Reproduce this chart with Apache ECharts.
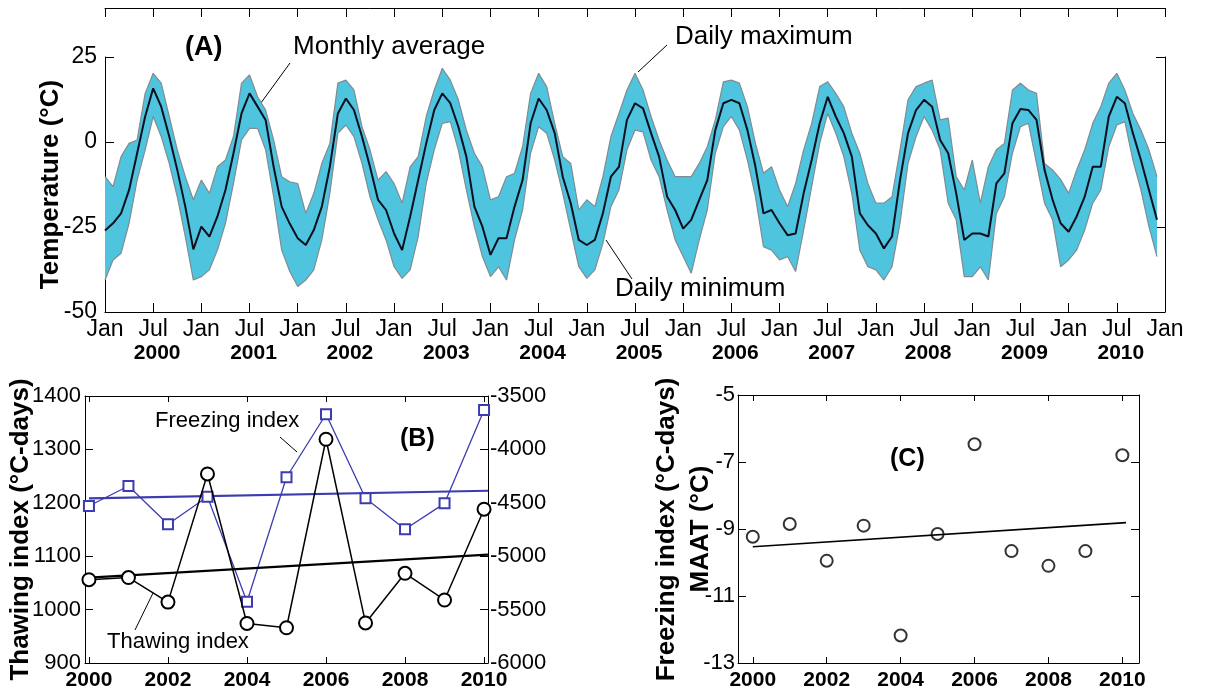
<!DOCTYPE html>
<html><head><meta charset="utf-8">
<script src="https://cdn.jsdelivr.net/npm/echarts@6/dist/echarts.min.js"></script>
<style>html,body{margin:0;padding:0;background:#fff}#c{width:1221px;height:697px}</style>
</head><body><div id="c"></div>
<script>
// ---------- Panel A: monthly temperatures Jan 2000 .. Dec 2010 (132 months) ----------
var tAvg = [
 -26,-23.9,-21,-14.1,-3.3,7.5,15.8,10.4,1.6,-8.2,-19,-31.6,
 -24.9,-27.8,-21.9,-14.1,-3.3,8.4,14.3,10.4,6.5,-7.3,-19,-24,
 -28.3,-30.3,-25.9,-19,-7.3,8.4,12.8,9.4,1.6,-7.3,-17,-20,
 -26.9,-31.8,-21.9,-11.2,-0.4,9.4,14.3,11.4,4.5,-4.3,-19,-24.9,
 -33.2,-28.3,-28.3,-19,-11.2,5.5,12.8,9.4,2.6,-10.2,-18,-28.8,
 -30.3,-28.8,-21,-10.2,-7.3,6.5,11.4,9.9,2.6,-4.3,-16.1,-20,
 -25.5,-22.9,-17,-11.2,3.5,11.4,12.4,11.4,3.5,-7.3,-21,-20,
 -23.9,-27.4,-26.9,-15.1,-5.3,5.5,13.3,7.5,2.6,-4.3,-21,-24.5,
 -26.9,-31.3,-27.8,-11.2,2.6,9.4,12.4,10.4,0.6,-3.3,-15.1,-28.8,
 -26.9,-26.9,-27.8,-12.2,-9.2,5.5,9.7,9.4,6.5,-8.2,-17,-23.9,
 -26.4,-21.9,-16.1,-7.3,-7.3,7.5,13.3,11.4,2.6,-5.3,-14.1,-22.9
];
var tMax = [
 -10.2,-13.1,-4.3,-0.4,0.6,14.3,20.2,17.3,7.5,-2.3,-10.2,-17,
 -11.2,-15.1,-7.3,-5.3,1.6,17.3,19.7,13.3,9.4,0.6,-10.2,-11.7,
 -12.2,-21,-15.1,-6.3,-0.4,17.3,18.2,15.3,4.5,-2.3,-11.2,-8.7,
 -12.2,-18,-7.3,-4.3,7.5,15.3,21.7,18.2,12.4,3.5,-3.3,-7.3,
 -17,-16.1,-10.2,-9.2,-1.4,14.3,20.2,16.3,5.5,-4.3,-6.3,-20,
 -17,-19,-10.2,1.6,8.4,15.3,20.2,15.3,7.5,0.6,-5.3,-10.2,
 -10.2,-10.2,-6.3,-1.4,6.5,17.7,18.2,17.3,10.4,-0.4,-9.2,-7.3,
 -14.1,-19,-12.2,-2.3,5.5,16.3,17.7,14.3,10.4,2.6,-3.3,-12.2,
 -18,-18,-16.1,-2.3,12.4,16.3,17.3,18.2,6.5,7,-10.2,-14.1,
 -5.3,-18,-7.3,-2.3,-0.4,15.3,17.3,15.3,14.3,-6.3,-8.2,-11,
 -15.1,-8.2,-2.3,5.5,10.4,17.3,20.2,15.3,8.4,3.5,-2.3,-10.2
];
var tMin = [
 -40.6,-34.7,-32.7,-23.9,-11.2,-2.3,7.5,1.6,-6.3,-16.1,-27.8,-40.6,
 -39.6,-37.6,-31.8,-23.9,-12.2,0.6,4.0,4.0,-2.3,-16.1,-31.8,-38,
 -42.5,-40.6,-37.6,-28.8,-15.1,2.6,5.0,1.6,-6.3,-16.1,-22.9,-28.8,
 -36.7,-40.1,-37.6,-27.8,-12.2,-2.3,5.5,6.0,-2.3,-14.1,-24.9,-33.7,
 -39.6,-36.7,-40.6,-28.8,-20,-3.3,4.5,2.6,-5.3,-15.1,-25.9,-36.7,
 -40.1,-37.6,-29.8,-19,-14.1,-2.3,3.5,3.0,-5.3,-10.2,-20,-28.8,
 -33.7,-38.6,-28.8,-20,-3.3,4.5,7.5,3.5,-5.3,-16.1,-30.8,-31.8,
 -34.7,-33.7,-38.1,-25.9,-13.1,-0.4,8.4,2.6,-4.3,-15.1,-31.8,-36.7,
 -37.6,-40.6,-36.7,-23.9,-6.3,1.6,7.5,3.5,-2.3,-18,-22.9,-39.6,
 -39.6,-36.7,-40.6,-21,-16.1,-3.3,4.5,5.5,-6.3,-18,-22.9,-36.7,
 -34.7,-31.8,-25.9,-18,-14.1,-1.4,5,6,-5.3,-14.1,-24.9,-33.7
];
var monthTickLabels = ['Jan', 'Jul'];
var yearLabels = ['2000','2001','2002','2003','2004','2005','2006','2007','2008','2009','2010'];

// ---------- Panel B: thawing / freezing index ----------
var years = [2000,2001,2002,2003,2004,2005,2006,2007,2008,2009,2010];
var thawing = [1056,1060,1014,1254,974,966,1319,975,1068,1018,1188];
var freezing = [-4530,-4343,-4701,-4443,-5426,-4261,-3671,-4458,-4748,-4505,-3631];
var thawTrendX = [2000, 2010.1];
var thawTrendY = [1060, 1103];
var frzTrendX = [2000, 2010.1];
var frzTrendY = [-4458, -4387];
var yearTicks = [2000,2002,2004,2006,2008,2010];

// ---------- Panel C: MAAT ----------
var maat = [-9.23,-8.85,-9.95,-8.9,-12.18,-9.15,-6.47,-9.66,-10.1,-9.66,-6.8];
var maatTrendX = [2000, 2010.1];
var maatTrendY = [-9.53, -8.81];

var FONT = '"Liberation Sans", Arial, Helvetica, sans-serif';
var BAND = '#4ec4de';
var EDGE = '#7f8c92';
var BLUE = '#3c3cb0';

function pairs(xs, ys){ return xs.map(function(x,i){ return [x, ys[i]]; }); }
function plain(v){ return String(v); }
var avgData = tAvg.map(function(v,i){ return [i, v]; });
var maxData = tMax.map(function(v,i){ return [i, v]; });
var minData = tMin.map(function(v,i){ return [i, v]; });

var axisBase = {
  axisLine: {show: true, onZero: false, lineStyle: {color: '#000', width: 1}},
  axisTick: {show: true, inside: true, length: 8, lineStyle: {color: '#000'}},
  splitLine: {show: false}
};
function ax(extra){ return Object.assign({}, JSON.parse(JSON.stringify(axisBase)), extra); }
var lblA = {color: '#000', fontSize: 23, fontFamily: FONT};
var lblB = {color: '#000', fontSize: 22, fontFamily: FONT, formatter: plain};
var lblYear = {color: '#000', fontSize: 21, fontWeight: 'bold', fontFamily: FONT, formatter: plain};
var nameStyle = {color: '#000', fontSize: 26, fontWeight: 'bold', fontFamily: FONT};

var option = {
  animation: false,
  backgroundColor: '#fff',
  grid: [
    {left: 105, top: 57, width: 1060, height: 255},
    {left: 105, top: 8, width: 1060, height: 1},
    {left: 85, top: 396, width: 403, height: 267},
    {left: 738, top: 395, width: 401, height: 268}
  ],
  xAxis: [
    ax({type: 'value', gridIndex: 0, min: 0, max: 132, interval: 6, position: 'bottom',
      axisTick: {show: true, inside: true, length: 9, lineStyle: {color: '#000'}},
      axisLabel: Object.assign({}, lblA, {margin: 6, showMinLabel: true, showMaxLabel: true,
        formatter: function(v){ return monthTickLabels[(v % 12 === 0) ? 0 : 1]; }})}),
    {type: 'value', gridIndex: 0, min: 0, max: 132, interval: 6, position: 'bottom', offset: 25,
      axisLine: {show: false}, axisTick: {show: false}, splitLine: {show: false},
      axisLabel: Object.assign({}, lblYear, {margin: 6, padding: [0,0,0,8],
        formatter: function(v){ return (v % 12 === 6) ? yearLabels[(v - 6) / 12] : ''; }})},
    ax({type: 'value', gridIndex: 1, min: 0, max: 132, interval: 6, position: 'top',
      axisTick: {show: true, inside: true, length: 9, lineStyle: {color: '#000'}},
      axisLabel: {show: false}}),
    ax({type: 'value', gridIndex: 2, min: 1999.9, max: 2010.1, position: 'bottom',
      axisTick: {show: true, inside: true, length: 6, customValues: yearTicks, lineStyle: {color: '#000'}},
      axisLabel: Object.assign({}, lblYear, {margin: 7, customValues: yearTicks})}),
    ax({type: 'value', gridIndex: 2, min: 1999.9, max: 2010.1, position: 'top',
      axisTick: {show: true, inside: true, length: 6, customValues: yearTicks, lineStyle: {color: '#000'}},
      axisLabel: {show: false}}),
    ax({type: 'value', gridIndex: 3, min: 1999.6, max: 2010.45, position: 'bottom',
      axisTick: {show: true, inside: true, length: 6, customValues: yearTicks, lineStyle: {color: '#000'}},
      axisLabel: Object.assign({}, lblYear, {margin: 7, customValues: yearTicks})}),
    ax({type: 'value', gridIndex: 3, min: 1999.6, max: 2010.45, position: 'top',
      axisTick: {show: true, inside: true, length: 6, customValues: yearTicks, lineStyle: {color: '#000'}},
      axisLabel: {show: false}})
  ],
  yAxis: [
    ax({type: 'value', gridIndex: 0, min: -50, max: 25, interval: 25, position: 'left',
      axisTick: {show: true, inside: true, length: 9, lineStyle: {color: '#000'}},
      axisLabel: Object.assign({}, lblA, {margin: 8}),
      name: 'Temperature (°C)', nameLocation: 'middle', nameGap: 41, nameMoveOverlap: false, nameTextStyle: nameStyle}),
    ax({type: 'value', gridIndex: 0, min: -50, max: 25, interval: 25, position: 'right',
      axisTick: {show: true, inside: true, length: 9, lineStyle: {color: '#000'}},
      axisLabel: {show: false}}),
    {type: 'value', gridIndex: 1, show: false, min: 0, max: 1},
    ax({type: 'value', gridIndex: 2, min: 900, max: 1400, interval: 100, position: 'left',
      axisLabel: Object.assign({}, lblB, {margin: 4}),
      name: 'Thawing index (°C-days)', nameLocation: 'middle', nameGap: 51, nameMoveOverlap: false, nameTextStyle: nameStyle}),
    ax({type: 'value', gridIndex: 2, min: -6000, max: -3500, interval: 500, position: 'right',
      axisLabel: Object.assign({}, lblB, {margin: 2}),
      name: 'Freezing index (°C-days)', nameLocation: 'middle', nameGap: 166, nameRotate: 90, nameMoveOverlap: false, nameTextStyle: nameStyle}),
    ax({type: 'value', gridIndex: 3, min: -13, max: -5, interval: 2, position: 'left',
      axisLabel: Object.assign({}, lblB, {margin: 3}),
      name: 'MAAT (°C)', nameLocation: 'middle', nameGap: 24, nameMoveOverlap: false, nameTextStyle: nameStyle}),
    ax({type: 'value', gridIndex: 3, min: -13, max: -5, interval: 2, position: 'right',
      axisLabel: {show: false}})
  ],
  series: [
    {type: 'custom', name: 'band', xAxisIndex: 0, yAxisIndex: 0, data: avgData, z: 1, silent: true,
      renderItem: function(params, api){
        if (params.dataIndex !== 0) return null;
        var pts = [], i;
        for (i = 0; i < tMax.length; i++) pts.push(api.coord([i, tMax[i]]));
        for (i = tMin.length - 1; i >= 0; i--) pts.push(api.coord([i, tMin[i]]));
        return {type: 'polygon', shape: {points: pts}, style: {fill: BAND}};
      }},
    {type: 'line', name: 'Daily maximum', xAxisIndex: 0, yAxisIndex: 0, data: maxData, symbol: 'none', z: 2,
      lineStyle: {color: EDGE, width: 1.2}},
    {type: 'line', name: 'Daily minimum', xAxisIndex: 0, yAxisIndex: 0, data: minData, symbol: 'none', z: 2,
      lineStyle: {color: EDGE, width: 1.2}},
    {type: 'line', name: 'Monthly average', xAxisIndex: 0, yAxisIndex: 0, data: avgData, symbol: 'none', z: 3,
      lineStyle: {color: '#0b0f1e', width: 2}},

    {type: 'line', name: 'Freezing index', xAxisIndex: 3, yAxisIndex: 4, data: pairs(years, freezing), z: 3,
      symbol: 'emptyRect', symbolSize: 10, itemStyle: {color: BLUE, borderColor: BLUE, borderWidth: 1.3},
      lineStyle: {color: BLUE, width: 1.3}},
    {type: 'line', name: 'Freezing trend', xAxisIndex: 3, yAxisIndex: 4, data: pairs(frzTrendX, frzTrendY), z: 3,
      symbol: 'none', lineStyle: {color: BLUE, width: 2.2}},
    {type: 'line', name: 'Thawing index', xAxisIndex: 3, yAxisIndex: 3, data: pairs(years, thawing), z: 4,
      symbol: 'emptyCircle', symbolSize: 13, itemStyle: {color: '#000', borderColor: '#000', borderWidth: 1.6},
      lineStyle: {color: '#000', width: 1.5}},
    {type: 'line', name: 'Thawing trend', xAxisIndex: 3, yAxisIndex: 3, data: pairs(thawTrendX, thawTrendY), z: 4,
      symbol: 'none', lineStyle: {color: '#000', width: 2.2}},

    {type: 'scatter', name: 'MAAT', xAxisIndex: 5, yAxisIndex: 5, data: pairs(years, maat),
      symbol: 'emptyCircle', symbolSize: 12, itemStyle: {color: '#000', borderColor: '#000', borderWidth: 1.6}},
    {type: 'line', name: 'MAAT trend', xAxisIndex: 5, yAxisIndex: 5, data: pairs(maatTrendX, maatTrendY),
      symbol: 'none', lineStyle: {color: '#000', width: 1.6}}
  ],
  graphic: [
    {type: 'text', left: 185, top: 34, style: {text: '(A)', font: 'bold 27px ' + FONT, fill: '#000'}},
    {type: 'text', left: 293, top: 34, style: {text: 'Monthly average', font: '26px ' + FONT, fill: '#000'}},
    {type: 'line', shape: {x1: 290, y1: 63, x2: 258, y2: 107}, style: {stroke: '#000', lineWidth: 1}},
    {type: 'text', left: 675, top: 24, style: {text: 'Daily maximum', font: '26px ' + FONT, fill: '#000'}},
    {type: 'line', shape: {x1: 667, y1: 45, x2: 638, y2: 72}, style: {stroke: '#000', lineWidth: 1}},
    {type: 'text', left: 615, top: 276, style: {text: 'Daily minimum', font: '26px ' + FONT, fill: '#000'}},
    {type: 'line', shape: {x1: 632, y1: 279, x2: 606, y2: 240}, style: {stroke: '#000', lineWidth: 1}},

    {type: 'text', left: 155, top: 410, style: {text: 'Freezing index', font: '22px ' + FONT, fill: '#000'}},
    {type: 'line', shape: {x1: 280, y1: 437, x2: 297, y2: 452}, style: {stroke: '#000', lineWidth: 1}},
    {type: 'text', left: 400, top: 427, style: {text: '(B)', font: 'bold 25px ' + FONT, fill: '#000'}},
    {type: 'text', left: 107, top: 631, style: {text: 'Thawing index', font: '22px ' + FONT, fill: '#000'}},
    {type: 'line', shape: {x1: 135, y1: 630, x2: 153, y2: 593}, style: {stroke: '#000', lineWidth: 1}},

    {type: 'text', left: 890, top: 447, style: {text: '(C)', font: 'bold 25px ' + FONT, fill: '#000'}}
  ]
};
var chart = echarts.init(document.getElementById('c'), null, {renderer: 'canvas'});
chart.setOption(option);
</script>
</body></html>
